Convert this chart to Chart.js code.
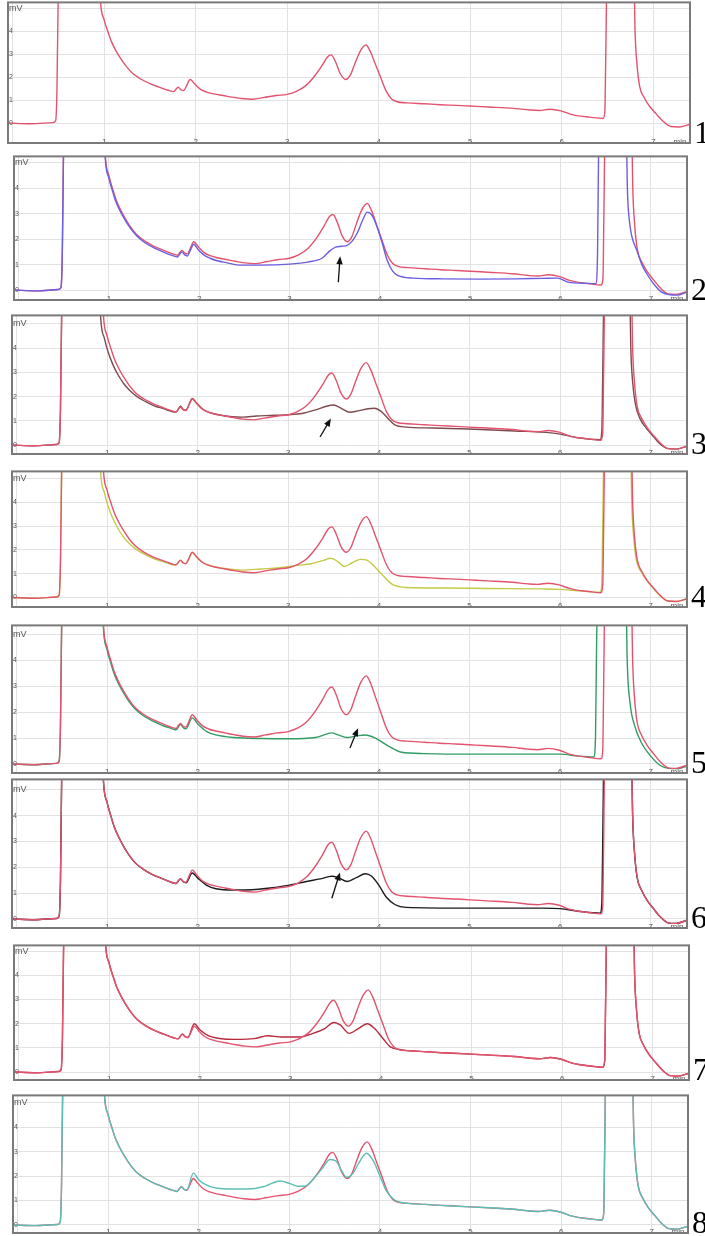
<!DOCTYPE html>
<html><head><meta charset="utf-8">
<script src="https://cdn.jsdelivr.net/npm/chart.js@4.4.1/dist/chart.umd.min.js"></script>
<style>
html,body{margin:0;padding:0;background:#fff;width:705px;height:1236px;overflow:hidden;}
canvas{position:absolute;}
.num{position:absolute;font-family:"Liberation Serif","DejaVu Serif",serif;font-size:32px;line-height:32px;color:#000;}
</style></head><body>
<script>
// ---- data (time in min, signal in mV) ----
const xTickValues = [0,1,2,3,4,5,6,7,7.29];
const yTickValues = [0,1,2,3,4,5];
const panelLabels = ["1","2","3","4","5","6","7","8"];

const refCurve = [[-0.05,0],[0.2,-0.03],[0.44,0.02],[0.47,0.1],[0.485,1.5],[0.5,6],[0.52,8],[0.93,8],[0.96,5.3],[1.0,4.5],[1.04,4.0],[1.08,3.55],[1.13,3.15],[1.18,2.82],[1.24,2.48],[1.31,2.17],[1.4,1.92],[1.5,1.72],[1.6,1.57],[1.7,1.43],[1.76,1.37],[1.79,1.5],[1.81,1.56],[1.84,1.45],[1.87,1.42],[1.9,1.62],[1.94,1.9],[1.99,1.7],[2.05,1.48],[2.12,1.35],[2.2,1.27],[2.3,1.2],[2.4,1.13],[2.5,1.07],[2.62,1.04],[2.75,1.12],[2.88,1.2],[3.0,1.25],[3.1,1.38],[3.2,1.62],[3.3,2.05],[3.38,2.5],[3.44,2.88],[3.48,2.97],[3.53,2.65],[3.58,2.15],[3.64,1.9],[3.69,2.1],[3.74,2.6],[3.8,3.15],[3.86,3.4],[3.91,3.1],[3.96,2.6],[4.02,2.0],[4.08,1.4],[4.14,1.05],[4.2,0.93],[4.31,0.88],[4.5,0.84],[4.67,0.8],[4.85,0.77],[5.0,0.74],[5.2,0.7],[5.47,0.64],[5.65,0.57],[5.75,0.55],[5.87,0.6],[5.99,0.53],[6.1,0.38],[6.2,0.3],[6.3,0.26],[6.45,0.2],[6.47,0.5],[6.48,3],[6.5,8],[6.78,8],[6.8,4.0],[6.82,2.6],[6.85,1.6],[6.9,1.1],[6.96,0.72],[7.03,0.4],[7.1,0.1],[7.19,-0.15],[7.28,-0.17],[7.4,-0.05]];

const sample2 = [[-0.05,0],[0.2,-0.03],[0.44,0.02],[0.47,0.1],[0.485,1.5],[0.5,6],[0.52,8],[0.93,8],[0.96,5.2],[1.0,4.4],[1.04,3.9],[1.08,3.45],[1.13,3.07],[1.18,2.75],[1.24,2.42],[1.31,2.12],[1.4,1.86],[1.5,1.66],[1.6,1.5],[1.7,1.36],[1.76,1.3],[1.79,1.44],[1.81,1.5],[1.84,1.38],[1.87,1.34],[1.9,1.55],[1.94,1.8],[1.99,1.58],[2.05,1.38],[2.12,1.25],[2.2,1.15],[2.3,1.08],[2.46,0.98],[2.7,0.98],[3.0,1.02],[3.2,1.1],[3.36,1.25],[3.45,1.55],[3.51,1.69],[3.58,1.72],[3.64,1.76],[3.7,1.95],[3.75,2.24],[3.81,2.75],[3.86,3.06],[3.91,2.95],[3.97,2.47],[4.03,1.8],[4.08,1.18],[4.14,0.75],[4.19,0.59],[4.37,0.47],[4.7,0.44],[5.11,0.43],[5.5,0.44],[5.8,0.46],[5.96,0.47],[6.1,0.3],[6.25,0.27],[6.39,0.25],[6.41,1.5],[6.42,5],[6.44,8],[6.72,8],[6.74,4],[6.76,2.8],[6.79,2.1],[6.84,1.6],[6.9,1.0],[6.95,0.67],[7.03,0.25],[7.12,-0.08],[7.2,-0.18],[7.29,-0.2],[7.4,-0.08]];

const sample3 = [[-0.05,0],[0.2,-0.03],[0.44,0.02],[0.47,0.1],[0.485,1.5],[0.5,6],[0.52,8],[0.9,8],[0.93,5.2],[0.97,4.4],[1.01,3.85],[1.06,3.35],[1.12,2.9],[1.18,2.55],[1.25,2.25],[1.33,2.0],[1.42,1.8],[1.52,1.62],[1.62,1.5],[1.7,1.4],[1.76,1.36],[1.81,1.6],[1.84,1.47],[1.87,1.44],[1.94,1.92],[1.99,1.72],[2.05,1.5],[2.12,1.36],[2.2,1.27],[2.35,1.18],[2.5,1.15],[2.65,1.2],[2.8,1.22],[3.0,1.25],[3.15,1.3],[3.3,1.45],[3.42,1.6],[3.5,1.65],[3.58,1.52],[3.68,1.35],[3.78,1.42],[3.88,1.5],[3.95,1.52],[4.02,1.4],[4.1,1.1],[4.18,0.82],[4.3,0.74],[4.6,0.7],[5.0,0.66],[5.5,0.58],[5.9,0.5],[6.0,0.45],[6.2,0.3],[6.44,0.22],[6.46,0.6],[6.47,3],[6.49,8],[6.76,8],[6.78,4],[6.8,2.6],[6.83,1.7],[6.88,1.1],[6.95,0.7],[7.03,0.35],[7.1,0.05],[7.19,-0.15],[7.28,-0.17],[7.4,-0.05]];

const sample4 = [[-0.05,0],[0.2,-0.03],[0.44,0.02],[0.47,0.1],[0.485,1.5],[0.5,6],[0.52,8],[0.9,8],[0.93,5.2],[0.97,4.4],[1.01,3.85],[1.06,3.35],[1.12,2.9],[1.18,2.55],[1.25,2.25],[1.33,2.0],[1.42,1.8],[1.52,1.62],[1.62,1.5],[1.7,1.4],[1.76,1.36],[1.81,1.58],[1.84,1.46],[1.87,1.43],[1.94,1.88],[1.99,1.68],[2.05,1.48],[2.15,1.33],[2.3,1.22],[2.5,1.15],[2.7,1.2],[2.9,1.25],[3.1,1.35],[3.25,1.42],[3.38,1.55],[3.47,1.65],[3.55,1.5],[3.62,1.3],[3.7,1.45],[3.8,1.6],[3.86,1.58],[3.95,1.3],[4.05,0.9],[4.15,0.55],[4.3,0.42],[4.7,0.4],[5.2,0.38],[5.8,0.36],[6.0,0.34],[6.2,0.28],[6.44,0.22],[6.46,0.6],[6.47,3],[6.49,8],[6.77,8],[6.79,4],[6.81,2.6],[6.84,1.6],[6.9,1.05],[6.96,0.7],[7.03,0.38],[7.1,0.08],[7.19,-0.15],[7.28,-0.17],[7.4,-0.05]];

const sample5 = [[-0.05,0],[0.2,-0.03],[0.44,0.02],[0.47,0.1],[0.485,1.5],[0.5,6],[0.52,8],[0.93,8],[0.96,5.2],[1.0,4.4],[1.04,3.9],[1.08,3.45],[1.13,3.07],[1.18,2.75],[1.24,2.42],[1.31,2.12],[1.4,1.86],[1.5,1.66],[1.6,1.5],[1.7,1.38],[1.76,1.32],[1.81,1.52],[1.84,1.4],[1.87,1.36],[1.94,1.78],[2.0,1.55],[2.1,1.25],[2.2,1.12],[2.4,1.02],[2.7,0.98],[3.0,0.97],[3.3,1.02],[3.42,1.15],[3.48,1.2],[3.55,1.12],[3.65,1.02],[3.75,1.08],[3.85,1.12],[3.95,1.02],[4.1,0.7],[4.25,0.45],[4.5,0.4],[5.0,0.38],[5.5,0.38],[6.0,0.38],[6.2,0.3],[6.37,0.27],[6.39,1],[6.4,4],[6.42,8],[6.72,8],[6.74,4],[6.77,2.4],[6.82,1.5],[6.9,0.8],[7.0,0.3],[7.1,-0.05],[7.2,-0.17],[7.3,-0.18],[7.4,-0.08]];

const sample6 = [[-0.05,0],[0.2,-0.03],[0.44,0.02],[0.47,0.1],[0.485,1.5],[0.5,6],[0.52,8],[0.93,8],[0.96,5.3],[1.0,4.5],[1.04,4.0],[1.08,3.55],[1.13,3.15],[1.18,2.82],[1.24,2.48],[1.31,2.17],[1.4,1.92],[1.5,1.72],[1.6,1.57],[1.7,1.43],[1.76,1.37],[1.81,1.55],[1.84,1.44],[1.87,1.4],[1.94,1.78],[2.0,1.58],[2.1,1.3],[2.2,1.17],[2.4,1.12],[2.6,1.13],[2.8,1.2],[3.0,1.3],[3.2,1.45],[3.35,1.55],[3.48,1.65],[3.55,1.6],[3.65,1.45],[3.75,1.6],[3.85,1.75],[3.92,1.65],[4.0,1.3],[4.08,0.85],[4.18,0.55],[4.3,0.45],[5.0,0.42],[5.8,0.42],[6.0,0.4],[6.2,0.3],[6.44,0.22],[6.46,0.6],[6.47,3],[6.49,8],[6.78,8],[6.8,4.0],[6.82,2.6],[6.85,1.6],[6.9,1.1],[6.96,0.72],[7.03,0.4],[7.1,0.1],[7.19,-0.15],[7.28,-0.17],[7.4,-0.05]];

const sample7 = [[-0.05,0],[0.2,-0.03],[0.44,0.02],[0.47,0.1],[0.485,1.5],[0.5,6],[0.52,8],[0.93,8],[0.96,5.3],[1.0,4.5],[1.04,4.0],[1.08,3.55],[1.13,3.15],[1.18,2.82],[1.24,2.48],[1.31,2.17],[1.4,1.92],[1.5,1.72],[1.6,1.57],[1.7,1.43],[1.76,1.37],[1.81,1.58],[1.84,1.46],[1.87,1.44],[1.94,2.0],[2.0,1.75],[2.1,1.5],[2.2,1.4],[2.4,1.35],[2.6,1.38],[2.75,1.5],[2.9,1.45],[3.1,1.45],[3.25,1.6],[3.38,1.8],[3.48,2.05],[3.55,1.95],[3.65,1.6],[3.75,1.8],[3.85,2.0],[3.93,1.8],[4.02,1.4],[4.1,1.05],[4.2,0.93],[4.31,0.88],[4.5,0.84],[4.67,0.8],[5.0,0.74],[5.47,0.64],[5.75,0.55],[5.87,0.6],[5.99,0.53],[6.1,0.38],[6.2,0.3],[6.45,0.2],[6.47,0.5],[6.48,3],[6.5,8],[6.78,8],[6.8,4.0],[6.82,2.6],[6.85,1.6],[6.9,1.1],[6.96,0.72],[7.03,0.4],[7.1,0.1],[7.19,-0.15],[7.28,-0.17],[7.4,-0.05]];

const sample8 = [[-0.05,0],[0.2,-0.03],[0.44,0.02],[0.47,0.1],[0.485,1.5],[0.5,6],[0.52,8],[0.93,8],[0.96,5.3],[1.0,4.5],[1.04,4.0],[1.08,3.55],[1.13,3.15],[1.18,2.82],[1.24,2.48],[1.31,2.17],[1.4,1.92],[1.5,1.72],[1.6,1.57],[1.7,1.43],[1.76,1.37],[1.81,1.56],[1.84,1.45],[1.87,1.44],[1.94,2.12],[2.0,1.85],[2.05,1.7],[2.2,1.5],[2.38,1.47],[2.55,1.47],[2.7,1.55],[2.82,1.72],[2.9,1.8],[3.0,1.7],[3.1,1.58],[3.18,1.6],[3.27,1.9],[3.36,2.3],[3.45,2.68],[3.52,2.6],[3.58,2.2],[3.63,1.95],[3.7,2.1],[3.77,2.55],[3.85,2.93],[3.93,2.6],[4.0,2.0],[4.07,1.4],[4.14,1.08],[4.2,0.95],[4.31,0.88],[4.5,0.84],[4.67,0.8],[5.0,0.74],[5.47,0.64],[5.75,0.55],[5.87,0.6],[5.99,0.53],[6.1,0.38],[6.2,0.3],[6.45,0.2],[6.47,0.5],[6.48,3],[6.5,8],[6.78,8],[6.8,4.0],[6.82,2.6],[6.85,1.6],[6.9,1.1],[6.96,0.72],[7.03,0.4],[7.1,0.1],[7.19,-0.15],[7.28,-0.17],[7.4,-0.05]];

// arrows: [tail, tip] in (min, mV)
const arrow2 = [[3.54,0.31],[3.56,1.33]];
const arrow3 = [[3.35,0.33],[3.47,1.1]];
const arrow5 = [[3.68,0.62],[3.77,1.38]];
const arrow6 = [[3.48,0.8],[3.57,1.8]];

// ---- layout ----
const RED = '#e2536d';
const panels = [
  {box:[8,2,690,143],   yMin:-0.87, yMax:5.26, lines:[[refCurve,RED]], arrow:null},
  {box:[14,156,687,300],yMin:-0.39, yMax:5.25, lines:[[sample2,'#6c5ee0'],[refCurve,RED]], arrow:arrow2},
  {box:[12,315,687,454],yMin:-0.37, yMax:5.35, lines:[[refCurve,RED],[sample3,'#7d4b4e']], arrow:arrow3},
  {box:[12,471,687,607],yMin:-0.4,  yMax:5.3,  lines:[[refCurve,RED],[sample4,'#c3ca45']], arrow:null},
  {box:[12,625,687,773],yMin:-0.35, yMax:5.35, lines:[[refCurve,RED],[sample5,'#2f9d63']], arrow:arrow5},
  {box:[12,779,687,928],yMin:-0.35, yMax:5.4,  lines:[[refCurve,RED],[sample6,'#1a1a1a']], arrow:arrow6},
  {box:[14,945,689,1080],yMin:-0.33,yMax:5.24, lines:[[refCurve,RED],[sample7,'#b8283c']], arrow:null},
  {box:[13,1095,688,1233],yMin:-0.33,yMax:5.3, lines:[[sample8,'#5cbfb6'],[refCurve,RED]], arrow:null}
];
const PAD = 6;

const framePlugin = {
  id:'frame',
  afterDraw(chart){
    const {ctx, chartArea:a} = chart;
    ctx.save();
    ctx.strokeStyle = '#7a7a7a'; ctx.lineWidth = 2;
    ctx.strokeRect(a.left, a.top, a.right-a.left, a.bottom-a.top);
    ctx.restore();
  }
};
const arrowPlugin = {
  id:'arrowMark',
  afterDatasetsDraw(chart, args, opts){
    if (!opts || !opts.pts) return;
    const xs = chart.scales.x, ys = chart.scales.y;
    const x0 = xs.getPixelForValue(opts.pts[0][0]), y0 = ys.getPixelForValue(opts.pts[0][1]);
    const x1 = xs.getPixelForValue(opts.pts[1][0]), y1 = ys.getPixelForValue(opts.pts[1][1]);
    const ang = Math.atan2(y1-y0, x1-x0), L = 8, W = 3.2;
    const {ctx} = chart;
    ctx.save();
    ctx.strokeStyle = '#111'; ctx.fillStyle = '#111'; ctx.lineWidth = 1.3;
    ctx.beginPath(); ctx.moveTo(x0,y0);
    ctx.lineTo(x1 - Math.cos(ang)*L*0.8, y1 - Math.sin(ang)*L*0.8); ctx.stroke();
    ctx.beginPath(); ctx.moveTo(x1,y1);
    ctx.lineTo(x1 - Math.cos(ang)*L + Math.sin(ang)*W, y1 - Math.sin(ang)*L - Math.cos(ang)*W);
    ctx.lineTo(x1 - Math.cos(ang)*L - Math.sin(ang)*W, y1 - Math.sin(ang)*L + Math.cos(ang)*W);
    ctx.closePath(); ctx.fill();
    ctx.restore();
  }
};

panels.forEach((p, i) => {
  const [l,t,r,b] = p.box;
  const cv = document.createElement('canvas');
  cv.width = r-l+2*PAD; cv.height = b-t+2*PAD;
  cv.style.left = (l-PAD)+'px'; cv.style.top = (t-PAD)+'px';
  document.body.appendChild(cv);

  const num = document.createElement('div');
  num.className = 'num';
  num.textContent = panelLabels[i];
  num.style.left = (r+4)+'px';
  num.style.top = (b-27)+'px';
  document.body.appendChild(num);

  new Chart(cv, {
    type:'line',
    data:{datasets: p.lines.map(([curve,color]) => ({
      data: curve.map(([x,y]) => ({x, y})),
      borderColor: color, borderWidth: 1.4, pointRadius: 0,
      cubicInterpolationMode: 'monotone', fill: false, clip: 0
    }))},
    options:{
      responsive:false, animation:false, events:[],
      layout:{padding:PAD},
      plugins:{legend:{display:false}, tooltip:{enabled:false}, arrowMark:{pts:p.arrow}},
      scales:{
        x:{type:'linear', min:-0.05, max:7.4,
          afterFit: s => { s.height = 0; },
          afterBuildTicks: s => { s.ticks = xTickValues.map(v => ({value:v})); },
          ticks:{autoSkip:false, maxRotation:0, mirror:true, padding:-3.5, color:'#555',
            font:{family:'Arial, "Liberation Sans", sans-serif', size:8},
            callback: v => v > 7.1 ? 'min' : (v === 0 ? '' : String(v))},
          grid:{drawTicks:false, color: c => (c.tick && c.tick.value > 7.1) ? 'rgba(0,0,0,0)' : '#e2e2e2', lineWidth:1},
          border:{display:false}},
        y:{type:'linear', min:p.yMin, max:p.yMax,
          afterFit: s => { s.width = 0; },
          afterBuildTicks: s => { s.ticks = yTickValues.map(v => ({value:v})); },
          ticks:{mirror:true, padding:1, color:'#555',
            font: c => ({family:'Arial, "Liberation Sans", sans-serif', size: (c.tick && c.tick.value === 5) ? 9 : 7}),
            callback: v => v === 5 ? 'mV' : String(v)},
          grid:{drawTicks:false, color:'#e2e2e2', lineWidth:1},
          border:{display:false}}
      }
    },
    plugins:[framePlugin, arrowPlugin]
  });
});
</script>
</body></html>
